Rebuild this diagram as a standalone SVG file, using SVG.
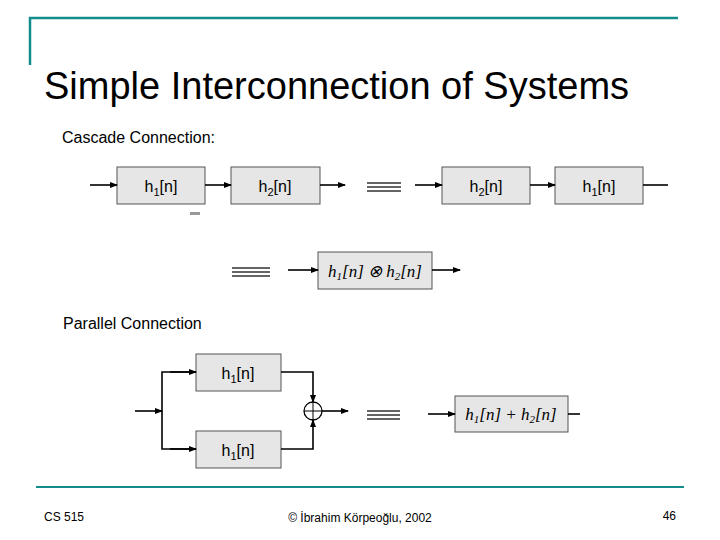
<svg xmlns="http://www.w3.org/2000/svg" width="720" height="540" viewBox="0 0 720 540">
<style>
text{font-family:"Liberation Sans",Arial,sans-serif;fill:#000}
.box rect{fill:#e6e6e6;stroke:#555;stroke-width:1}
.bt{font-size:16px;text-anchor:middle}
.mt{font-family:"Liberation Serif","Times New Roman",serif;font-style:italic;font-size:17px;text-anchor:middle}
.w{stroke:#000;stroke-width:1.6;fill:none}
.eq{stroke:#333;stroke-width:1.3}
</style>
<defs><marker id="a" markerWidth="8" markerHeight="6" refX="7" refY="3" orient="auto" markerUnits="userSpaceOnUse"><path d="M0,0L8,3L0,6z" fill="#000"/></marker></defs>
<rect width="720" height="540" fill="#fff"/>
<path d="M30,65V18H678" stroke="#148c8c" stroke-width="2.5" fill="none"/>
<line x1="36" y1="487" x2="684" y2="487" stroke="#148c8c" stroke-width="2"/>
<text x="44" y="99" font-size="38">Simple Interconnection of Systems</text>
<text x="62" y="143" font-size="16">Cascade Connection:</text>
<text x="63" y="329" font-size="16">Parallel Connection</text>
<g id="b1" class="box"><rect x="117" y="167" width="88" height="37"/><text class="bt" x="161" y="192">h<tspan font-size="11" dy="4">1</tspan><tspan dy="-4">[n]</tspan></text></g>
<g id="b2" class="box"><rect x="231" y="167" width="89" height="37"/><text class="bt" x="275" y="192">h<tspan font-size="11" dy="4">2</tspan><tspan dy="-4">[n]</tspan></text></g>
<g id="b3" class="box"><rect x="442" y="167" width="88" height="37"/><text class="bt" x="486" y="192">h<tspan font-size="11" dy="4">2</tspan><tspan dy="-4">[n]</tspan></text></g>
<g id="b4" class="box"><rect x="555" y="167" width="88" height="37"/><text class="bt" x="599" y="192">h<tspan font-size="11" dy="4">1</tspan><tspan dy="-4">[n]</tspan></text></g>
<g id="b5" class="box"><rect x="318" y="252" width="114" height="37"/><text class="mt" x="375" y="277">h<tspan font-size="11" dy="3">1</tspan><tspan dy="-3">[n] ⊗ h</tspan><tspan font-size="11" dy="3">2</tspan><tspan dy="-3">[n]</tspan></text></g>
<g id="p1" class="box"><rect x="196" y="354" width="85" height="37"/><text class="bt" x="238" y="379">h<tspan font-size="11" dy="4">1</tspan><tspan dy="-4">[n]</tspan></text></g>
<g id="p2" class="box"><rect x="196" y="431" width="85" height="37"/><text class="bt" x="238" y="456">h<tspan font-size="11" dy="4">1</tspan><tspan dy="-4">[n]</tspan></text></g>
<g id="sum"><circle cx="313" cy="411" r="9" fill="none" stroke="#000" stroke-width="1.3"/><path d="M304,411H322M313,402V420" stroke="#000" stroke-width="1"/></g>
<g id="p3" class="box"><rect x="455" y="396" width="113" height="36"/><text class="mt" x="511" y="420">h<tspan font-size="11" dy="3">1</tspan><tspan dy="-3">[n] + h</tspan><tspan font-size="11" dy="3">2</tspan><tspan dy="-3">[n]</tspan></text></g>
<g id="connectors">
<line class="w" x1="90" y1="185" x2="117" y2="185" marker-end="url(#a)"/>
<line class="w" x1="205" y1="185" x2="231" y2="185" marker-end="url(#a)"/>
<line class="w" x1="320" y1="185" x2="345" y2="185" marker-end="url(#a)"/>
<line class="w" x1="415" y1="185" x2="442" y2="185" marker-end="url(#a)"/>
<line class="w" x1="530" y1="185" x2="555" y2="185" marker-end="url(#a)"/>
<line class="w" x1="643" y1="185" x2="668" y2="185"/>
<line class="w" x1="288" y1="270" x2="318" y2="270" marker-end="url(#a)"/>
<line class="w" x1="432" y1="270" x2="460" y2="270" marker-end="url(#a)"/>
<line class="w" x1="135" y1="411" x2="162" y2="411" marker-end="url(#a)"/>
<path class="w" d="M196,372H162V449H196"/>
<line class="w" x1="170" y1="372" x2="196" y2="372" marker-end="url(#a)"/>
<line class="w" x1="170" y1="449" x2="196" y2="449" marker-end="url(#a)"/>
<path class="w" d="M281,372H313V402" marker-end="url(#a)" stroke-width="1.2"/>
<path class="w" d="M281,449H313V420" marker-end="url(#a)" stroke-width="1.2"/>
<line class="w" x1="322" y1="411" x2="348" y2="411" marker-end="url(#a)"/>
<line class="w" x1="428" y1="414" x2="455" y2="414" marker-end="url(#a)"/>
<line class="w" x1="568" y1="414" x2="580" y2="414"/>
</g>
<g class="eq">
<path d="M367,183H401M367,187H401M367,191H401"/>
<path d="M232,268H270M232,272H270M232,276H270"/>
<path d="M367,411H400M367,415H400M367,419H400"/>
</g>
<rect x="190" y="212" width="10" height="3" fill="#999"/>
<text x="44" y="521" font-size="12">CS 515</text>
<text x="360" y="522" font-size="12" text-anchor="middle">© İbrahim Körpeoğlu, 2002</text>
<text x="676" y="520" font-size="12" text-anchor="end">46</text>
</svg>
